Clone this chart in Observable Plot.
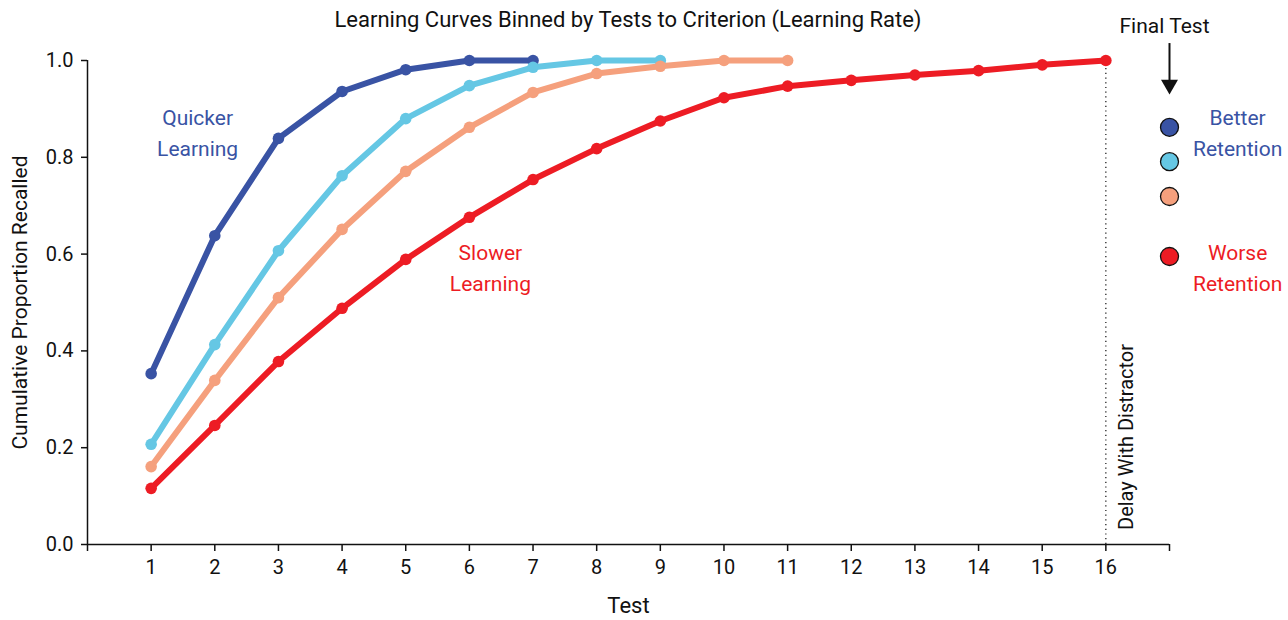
<!DOCTYPE html>
<html>
<head>
<meta charset="utf-8">
<script src="https://cdn.jsdelivr.net/npm/d3@7"></script>
<script src="https://cdn.jsdelivr.net/npm/@observablehq/plot@0.6"></script>
<style>
  html, body { margin: 0; padding: 0; background: #fff; }
  body { font-family: Roboto, sans-serif; }
  #wrap { position: relative; width: 1288px; height: 620px; }
  #title { position: absolute; top: 7px; left: 0; width: 1256px; text-align: center; font-size: 22px; color: #111; }
  svg { font-family: Roboto, sans-serif; }
</style>
</head>
<body>
<div id="wrap">
  <div id="title">Learning Curves Binned by Tests to Criterion (Learning Rate)</div>
  <div id="chart"></div>
</div>
<script>
// ---- data ----
const tests = [1, 2, 3, 4, 5, 6, 7, 8, 9, 10, 11, 12, 13, 14, 15, 16];
const quickest = [0.353, 0.638, 0.839, 0.936, 0.981, 1.0, 1.0];
const quick = [0.207, 0.413, 0.607, 0.762, 0.880, 0.948, 0.986, 1.0, 1.0];
const slow = [0.161, 0.339, 0.510, 0.651, 0.771, 0.862, 0.934, 0.973, 0.988, 1.0, 1.0];
const slowest = [0.116, 0.246, 0.378, 0.488, 0.589, 0.676, 0.754, 0.818, 0.875, 0.923, 0.947, 0.959, 0.970, 0.979, 0.991, 1.0];
const seriesNames = ["quickest", "quick", "slow", "slowest"];
const seriesColors = ["#3953a4", "#65c7e4", "#f5a07d", "#ed1c24"];
const yTicks = [0, 0.2, 0.4, 0.6, 0.8, 1.0];
const xTicks = d3.range(0, 18);
const finalTestX = 16;
// legend (final test) markers
const legendY = [0.862, 0.791, 0.719, 0.595];

// ---- build table ----
const allSeries = [quickest, quick, slow, slowest];
const rows = [];
allSeries.forEach((vals, i) => vals.forEach((v, j) => rows.push({series: seriesNames[i], color: seriesColors[i], test: tests[j], value: v})));
const legendRows = legendY.map((y, i) => ({y, color: seriesColors[i]}));

const font = 20;
const chart = Plot.plot({
  width: 1288,
  height: 620,
  marginLeft: 87,
  marginRight: 119,
  marginTop: 60,
  marginBottom: 76,
  x: {domain: [0, 17]},
  y: {domain: [0, 1]},
  style: {fontSize: font + "px", color: "#111", overflow: "visible"},
  marks: [
    Plot.axisX({ticks: xTicks, tickFormat: d => (d >= 1 && d <= 16) ? String(d) : "", tickSize: 7, tickPadding: 8, label: null, fontSize: font, strokeWidth: 1.5}),
    Plot.axisY({ticks: yTicks, tickFormat: d3.format(".1f"), tickSize: 6, tickPadding: 8, label: null, fontSize: font, strokeWidth: 1.5}),
    Plot.ruleX([0], {stroke: "#111", strokeWidth: 1.5}),
    Plot.ruleY([0], {stroke: "#111", strokeWidth: 1.5}),
    Plot.ruleX([finalTestX], {y1: 0, y2: 1, stroke: "#111", strokeWidth: 1.2, strokeDasharray: "1.2,3.5"}),
    Plot.text(["Delay With Distractor"], {x: finalTestX, y: 0.03, dx: 21, rotate: -90, textAnchor: "start", fontSize: font, fill: "#111"}),
    Plot.line(rows, {x: "test", y: "value", z: "series", stroke: "color", strokeWidth: 6, strokeLinejoin: "round"}),
    Plot.dot(rows, {x: "test", y: "value", fill: "color", r: 5.8}),
    Plot.text(["Quicker\nLearning"], {x: 1.73, y: 0.855, fill: "#3953a4", fontSize: 21, lineHeight: 1.48}),
    Plot.text(["Slower\nLearning"], {x: 6.33, y: 0.577, fill: "#ed1c24", fontSize: 21, lineHeight: 1.48}),
    // final test legend
    Plot.text(["Final Test"], {x: 17, y: 1.07, dx: -5, fontSize: 21, fill: "#111"}),
    Plot.ruleX([17], {y1: 1.035, y2: 0.955, stroke: "#111", strokeWidth: 2}),
    Plot.dot([0], {x: () => 17, y: () => 0.950, symbol: "triangle", rotate: 180, r: 6.3, fill: "#111", stroke: "none"}),
    Plot.dot(legendRows, {x: () => 17, y: "y", fill: "color", r: 9, stroke: "#111", strokeWidth: 1.3}),
    Plot.text(["Better\nRetention"], {x: 18.07, y: 0.855, fill: "#3953a4", fontSize: 21, lineHeight: 1.48}),
    Plot.text(["Worse\nRetention"], {x: 18.07, y: 0.577, fill: "#ed1c24", fontSize: 21, lineHeight: 1.48}),
    // axis labels
    Plot.text(["Cumulative Proportion Recalled"], {frameAnchor: "left", textAnchor: "middle", dx: -67, rotate: -90, fontSize: 21, fill: "#111"}),
    Plot.text(["Test"], {frameAnchor: "bottom", dy: 68, fontSize: 22, fill: "#111"})
  ]
});
document.getElementById("chart").appendChild(chart);
</script>
</body>
</html>
